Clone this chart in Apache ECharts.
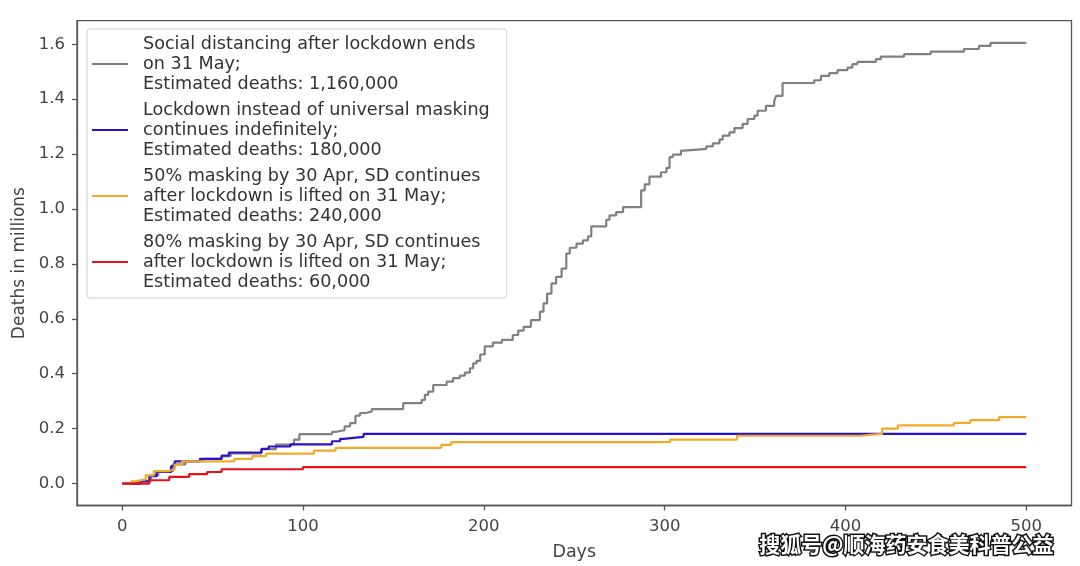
<!DOCTYPE html>
<html>
<head>
<meta charset="utf-8">
<script src="https://cdn.jsdelivr.net/npm/echarts@6/dist/echarts.min.js"></script>
<style>
html,body{margin:0;padding:0;background:#fff;}
#c{width:1080px;height:566px;}
</style>
</head>
<body>
<div id="c"></div>
<script>
// ---- data ----
const seriesNames = [
  "Social distancing after lockdown ends\non 31 May;\nEstimated deaths: 1,160,000",
  "Lockdown instead of universal masking\ncontinues indefinitely;\nEstimated deaths: 180,000",
  "50% masking by 30 Apr, SD continues\nafter lockdown is lifted on 31 May;\nEstimated deaths: 240,000",
  "80% masking by 30 Apr, SD continues\nafter lockdown is lifted on 31 May;\nEstimated deaths: 60,000"
];

const grayDays = [0,10,16,20,28,35,45,55,60,77,85,95,98,116,118,123,126,129,131.5,135,138,155.4,165.6,167.4,169.2,172,179.4,183,186.7,189.5,192.3,194.1,196,198,200.5,205,210,216,219,222,226,231,233,235,237.4,240,243,245.6,247.5,251.2,254.8,257.6,259.4,267.7,269.5,273.2,277,287,289,291.6,298,301,302.7,304.5,309,311,323,326.6,330.3,332.1,335.8,338.6,343.1,345.9,349.6,351.4,356,360.6,361.6,365.2,382.7,386.4,391,395.6,401.1,403.8,406.6,416.8,419.5,432.4,447.1,465.5,473.8,480.2,500];
const grayValues = [0,0.01,0.03,0.045,0.07,0.082,0.09,0.1,0.11,0.125,0.142,0.16,0.18,0.188,0.194,0.208,0.22,0.247,0.257,0.263,0.271,0.293,0.305,0.323,0.335,0.359,0.371,0.384,0.393,0.404,0.42,0.438,0.447,0.47,0.5,0.513,0.523,0.541,0.557,0.571,0.595,0.626,0.656,0.692,0.729,0.753,0.783,0.838,0.859,0.874,0.886,0.90,0.937,0.961,0.977,0.989,1.007,1.068,1.09,1.118,1.134,1.15,1.189,1.198,1.213,1.219,1.228,1.239,1.253,1.267,1.279,1.295,1.31,1.328,1.34,1.358,1.376,1.394,1.412,1.459,1.469,1.485,1.495,1.506,1.515,1.528,1.536,1.546,1.555,1.564,1.573,1.583,1.594,1.605,1.605];

const blueDays   = [0,10,15,19,27,29,43,55,59,77,81,93,116,120.5,122.5,133.5,500];
const blueValues = [0,0.008,0.027,0.042,0.063,0.081,0.09,0.102,0.113,0.126,0.135,0.143,0.154,0.163,0.17,0.181,0.181];

const orangeDays   = [0,5,7,13,17.5,25.5,29,33,62,72,79.5,106,118,176.5,182,303,340,408,420.3,429,460,469,485,500];
const orangeValues = [0,0.008,0.015,0.03,0.045,0.052,0.069,0.081,0.09,0.1,0.109,0.12,0.13,0.141,0.151,0.16,0.174,0.181,0.2,0.212,0.221,0.231,0.242,0.242];

const redDays   = [0,15,26,37,47,55,100,500];
const redValues = [0,0.012,0.024,0.034,0.042,0.052,0.06,0.06];

const xTicks = [0,100,200,300,400,500];
const yTicks = [0,0.2,0.4,0.6,0.8,1.0,1.2,1.4,1.6];

const colors = ['#808080','#2a12c8','#f2aa2c','#e5121c'];
const watermark = '搜狐号@顺海药安食美科普公益';

function pairs(d, v){ return d.map((x,i)=>[x, v[i]]); }
const allData = [pairs(grayDays,grayValues), pairs(blueDays,blueValues), pairs(orangeDays,orangeValues), pairs(redDays,redValues)];

const FONT = 'DejaVu Sans';
const chart = echarts.init(document.getElementById('c'), null, {renderer:'canvas'});
chart.setOption({
  animation:false,
  backgroundColor:'#fff',
  textStyle:{fontFamily:FONT},
  grid:{left:77, right:8.5, top:20.7, bottom:60.5, containLabel:false, outerBoundsMode:'none',
        show:true, borderColor:'#555', borderWidth:1.3, backgroundColor:'transparent'},
  xAxis:{
    type:'value', min:-25, max:525,
    name:'Days', nameLocation:'middle', nameGap:38,
    nameTextStyle:{fontSize:17.5, color:'#444', fontFamily:FONT},
    axisLine:{show:true, onZero:false, lineStyle:{color:'#555', width:1.3}},
    axisTick:{show:true, inside:false, length:5, lineStyle:{color:'#555', width:1.3}, customValues:xTicks},
    axisLabel:{fontSize:16.5, color:'#444', margin:13, fontFamily:FONT, customValues:xTicks, formatter:(v)=>String(Math.round(v))},
    splitLine:{show:false}
  },
  yAxis:{
    type:'value', min:-0.08, max:1.686,
    name:'Deaths in millions', nameLocation:'middle', nameGap:48,
    nameTextStyle:{fontSize:17, color:'#444', fontFamily:FONT},
    axisLine:{show:true, onZero:false, lineStyle:{color:'#555', width:1.3}},
    axisTick:{show:true, inside:false, length:5, lineStyle:{color:'#555', width:1.3}, customValues:yTicks},
    axisLabel:{fontSize:16.5, color:'#444', margin:12, fontFamily:FONT, customValues:yTicks, formatter:(v)=>v.toFixed(1)},
    splitLine:{show:false}
  },
  legend:{
    orient:'vertical', left:87, top:29,
    padding:[5,17,6,5], itemGap:6,
    itemWidth:36, itemHeight:2, icon:'rect',
    backgroundColor:'rgba(255,255,255,0.85)', borderColor:'#d0d0d0', borderWidth:1, borderRadius:3,
    textStyle:{fontSize:17.6, lineHeight:20, color:'#333', fontFamily:FONT, padding:[0,0,0,10]},
    data:seriesNames
  },
  series: seriesNames.map((n,i)=>({
    name:n, type:'line', step:'end', data:allData[i],
    showSymbol:false, symbol:'none',
    lineStyle:{color:colors[i], width:2.2},
    itemStyle:{color:colors[i]},
    z:2+i
  })),
  graphic:[{
    type:'text', right:25, top:532, z:100,
    style:{text:watermark, fontSize:21, fontWeight:'bold', fontFamily:'Noto Sans CJK SC', fill:'#fff', stroke:'#111', lineWidth:3}
  }]
});
</script>
</body>
</html>
